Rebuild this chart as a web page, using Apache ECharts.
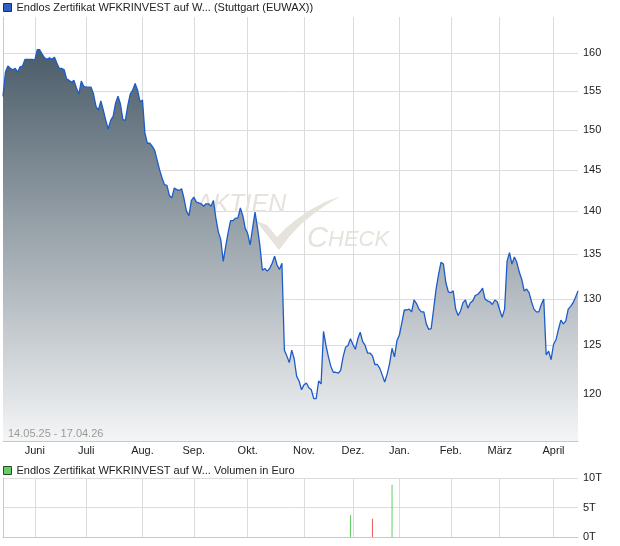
<!DOCTYPE html>
<html>
<head>
<meta charset="utf-8">
<script src="https://cdn.jsdelivr.net/npm/echarts@6/dist/echarts.min.js"></script>
<style>
html,body{margin:0;padding:0;background:#fff;}
#c{width:620px;height:546px;}
</style>
</head>
<body>
<div id="c"></div>
<script>
// ---- data ----
const mainName = 'Endlos Zertifikat WFKRINVEST auf W... (Stuttgart (EUWAX))';
const volName = 'Endlos Zertifikat WFKRINVEST auf W... Volumen in Euro';
const rangeText = '14.05.25 - 17.04.26';
const firstDay = '2025-05-14';
const lastDay = '2026-04-17';
const holidays = ['2025-12-24','2025-12-25','2025-12-26','2025-12-31','2026-01-01','2026-04-03','2026-04-06'];
const monthLabels = ['Jan.','Feb.','März','April','Mai','Juni','Juli','Aug.','Sep.','Okt.','Nov.','Dez.'];
const priceTicks = [120,125,130,135,140,145,150,155,160];

const prices = [
154.3,157.5,158.3,158.0,157.8,158.0,157.5,158.2,158.3,159.2,
159.2,159.2,159.2,159.1,160.5,160.5,159.9,159.4,159.2,159.4,
159.2,159.5,158.7,158.0,158.0,157.8,156.6,156.4,156.1,156.4,
155.4,154.6,156.3,155.6,155.5,155.5,155.5,154.6,153.0,152.5,
153.7,152.5,151.2,150.1,151.2,151.7,153.4,154.3,153.3,151.3,
151.2,153.1,154.6,155.1,156.0,155.1,153.6,153.8,149.6,148.3,
148.3,147.9,147.4,146.2,145.0,144.0,143.2,143.1,141.9,141.6,
142.8,142.6,142.5,142.7,141.5,140.0,139.5,141.3,141.7,141.1,
141.0,140.9,140.6,140.9,140.9,140.6,141.3,139.2,137.6,136.7,
134.2,135.9,137.5,138.9,138.9,139.2,139.2,140.4,139.5,138.0,
137.4,136.1,138.0,139.9,138.1,136.0,133.2,133.4,133.1,133.4,
134.0,134.8,133.8,133.3,134.0,124.5,123.9,123.2,124.5,123.6,
121.8,121.3,120.4,120.9,121.1,120.6,120.4,119.5,119.5,121.3,
121.0,126.5,125.0,123.8,122.8,122.2,122.2,122.1,122.4,123.8,
124.8,125.0,125.7,125.1,124.6,125.7,126.4,125.4,125.0,124.2,
124.2,123.9,123.0,123.0,122.6,121.9,121.2,122.0,123.1,124.7,
123.8,125.5,126.1,127.4,128.8,128.8,128.9,128.6,129.9,129.5,
128.9,128.6,128.6,127.3,126.7,126.8,128.9,131.1,132.7,134.1,
133.9,131.8,130.8,130.7,130.9,128.9,128.2,128.7,129.6,129.9,
129.0,129.6,129.8,130.4,130.5,130.8,131.2,130.0,129.8,129.7,
129.4,129.9,129.7,128.8,128.0,128.9,134.2,135.2,133.9,134.7,
134.1,133.0,132.2,130.9,131.1,130.7,129.7,128.9,128.6,128.6,
129.4,130.0,124.0,124.4,123.5,125.1,125.6,126.7,127.7,127.3,
127.6,128.9,129.2,129.6,130.2,130.9
];

const volDates = ['2025-11-28','2025-12-11','2025-12-23'];
const volValues = [3750, 3100, 8850];
const volUp = [true, false, true];

// ---- trading-day categories ----
const dates = [];
for (let d = new Date(firstDay + 'T00:00:00Z'); d <= new Date(lastDay + 'T00:00:00Z'); d.setUTCDate(d.getUTCDate() + 1)) {
  const wd = d.getUTCDay();
  if (wd === 0 || wd === 6) continue;
  const s = d.toISOString().slice(0, 10);
  if (holidays.indexOf(s) >= 0) continue;
  dates.push(s);
}

const volData = dates.map(function (s) {
  const k = volDates.indexOf(s);
  if (k < 0) return null;
  return { value: volValues[k], itemStyle: { color: volUp[k] ? '#5fcf5f' : '#ec5b5b' } };
});

function isMonthStart(idx) {
  return idx > 0 && dates[idx].slice(0, 7) !== dates[idx - 1].slice(0, 7);
}
function monthLabel(v) { return monthLabels[parseInt(v.slice(5, 7), 10) - 1]; }

const FONT = 'Liberation Sans, Arial, sans-serif';
const GRID = '#dcdcdc';

const chart = echarts.init(document.getElementById('c'), null, { renderer: 'canvas' });
chart.setOption({
  animation: false,
  backgroundColor: '#fff',
  textStyle: { fontFamily: FONT },
  legend: [
    {
      left: 3, top: 2, padding: 0, itemWidth: 8, itemHeight: 8, itemGap: 4, icon: 'rect',
      selectedMode: false,
      textStyle: { fontSize: 11, color: '#222', fontFamily: FONT },
      data: [{ name: mainName, itemStyle: { color: '#2f62c0', borderColor: '#1c2f55', borderWidth: 1 } }]
    },
    {
      left: 3, top: 465, padding: 0, itemWidth: 8, itemHeight: 8, itemGap: 4, icon: 'rect',
      selectedMode: false,
      textStyle: { fontSize: 11, color: '#222', fontFamily: FONT },
      data: [{ name: volName, itemStyle: { color: '#66cc66', borderColor: '#2a4a2a', borderWidth: 1 } }]
    }
  ],
  grid: [
    { left: 3, right: 42, top: 17, bottom: 105, containLabel: false },
    { left: 3, right: 42, top: 478, bottom: 9, containLabel: false }
  ],
  xAxis: [
    {
      type: 'category', gridIndex: 0, data: dates, boundaryGap: false,
      axisLine: { show: true, lineStyle: { color: '#c8c8c8' } },
      axisTick: { show: false },
      axisLabel: { interval: isMonthStart, formatter: monthLabel, fontSize: 11, color: '#222', margin: 4, fontFamily: FONT },
      splitLine: { show: true, interval: isMonthStart, lineStyle: { color: GRID, width: 1 } }
    },
    {
      type: 'category', gridIndex: 1, data: dates, boundaryGap: false,
      axisLine: { show: true, lineStyle: { color: '#c8c8c8' } },
      axisTick: { show: false },
      axisLabel: { show: false },
      splitLine: { show: true, interval: isMonthStart, lineStyle: { color: GRID, width: 1 } }
    }
  ],
  yAxis: [
    {
      type: 'log', gridIndex: 0, position: 'right', min: 115.3, max: 165, logBase: 10,
      axisLine: { show: false }, axisTick: { show: false, customValues: priceTicks },
      axisLabel: { customValues: priceTicks, fontSize: 11, color: '#222', margin: 5, fontFamily: FONT, formatter: function (v) { return String(Math.round(v)); } },
      splitLine: { show: true, lineStyle: { color: GRID, width: 1 } }
    },
    {
      type: 'value', gridIndex: 0, position: 'left', min: 0, max: 1,
      axisLine: { show: true, lineStyle: { color: '#c8c8c8' } },
      axisTick: { show: false }, axisLabel: { show: false }, splitLine: { show: false }
    },
    {
      type: 'value', gridIndex: 1, position: 'right', min: 0, max: 10000, interval: 5000,
      axisLine: { show: false }, axisTick: { show: false },
      axisLabel: { fontSize: 11, color: '#222', margin: 5, fontFamily: FONT, formatter: function (v) { return (v / 1000) + 'T'; } },
      splitLine: { show: true, lineStyle: { color: GRID, width: 1 } }
    },
    {
      type: 'value', gridIndex: 1, position: 'left', min: 0, max: 1,
      axisLine: { show: true, lineStyle: { color: '#c8c8c8' } },
      axisTick: { show: false }, axisLabel: { show: false }, splitLine: { show: false }
    }
  ],
  graphic: [
    { type: 'text', x: 196, y: 193, z: 1, silent: true,
      style: { text: 'AKTIEN', font: 'italic 25px ' + FONT, fill: '#e6e2dc' } },
    { type: 'text', x: 307, y: 224, z: 1, silent: true,
      style: { text: 'C', font: 'italic 29px ' + FONT, fill: '#e6e2dc' } },
    { type: 'text', x: 328, y: 229, z: 1, silent: true,
      style: { text: 'HECK', font: 'italic 22px ' + FONT, fill: '#e6e2dc' } },
    { type: 'polygon', z: 1, silent: true,
      shape: { points: [[256,221],[267,225],[277,237],[286,228],[297,219],[310,210],[325,202],[341,196],[326,205],[312,215],[300,225],[289,237],[279,250]] },
      style: { fill: '#e6e2dc' } },
    { type: 'text', x: 8, y: 428, z: 10, silent: true,
      style: { text: rangeText, font: '11px ' + FONT, fill: '#9a9a9a' } }
  ],
  series: [
    {
      name: mainName, type: 'line', xAxisIndex: 0, yAxisIndex: 0, data: prices,
      showSymbol: false, symbol: 'none', z: 3,
      lineStyle: { color: '#1d5cc8', width: 1.3 },
      itemStyle: { color: '#2f62c0' },
      areaStyle: {
        origin: 'start', opacity: 1,
        color: { type: 'linear', x: 0, y: 0, x2: 0, y2: 1,
          colorStops: [{ offset: 0, color: '#4a5c69' }, { offset: 1, color: '#f4f5f6' }] }
      }
    },
    {
      name: volName, type: 'bar', xAxisIndex: 1, yAxisIndex: 2, data: volData,
      barWidth: 1, itemStyle: { color: '#66cc66' }
    }
  ]
});
</script>
</body>
</html>
